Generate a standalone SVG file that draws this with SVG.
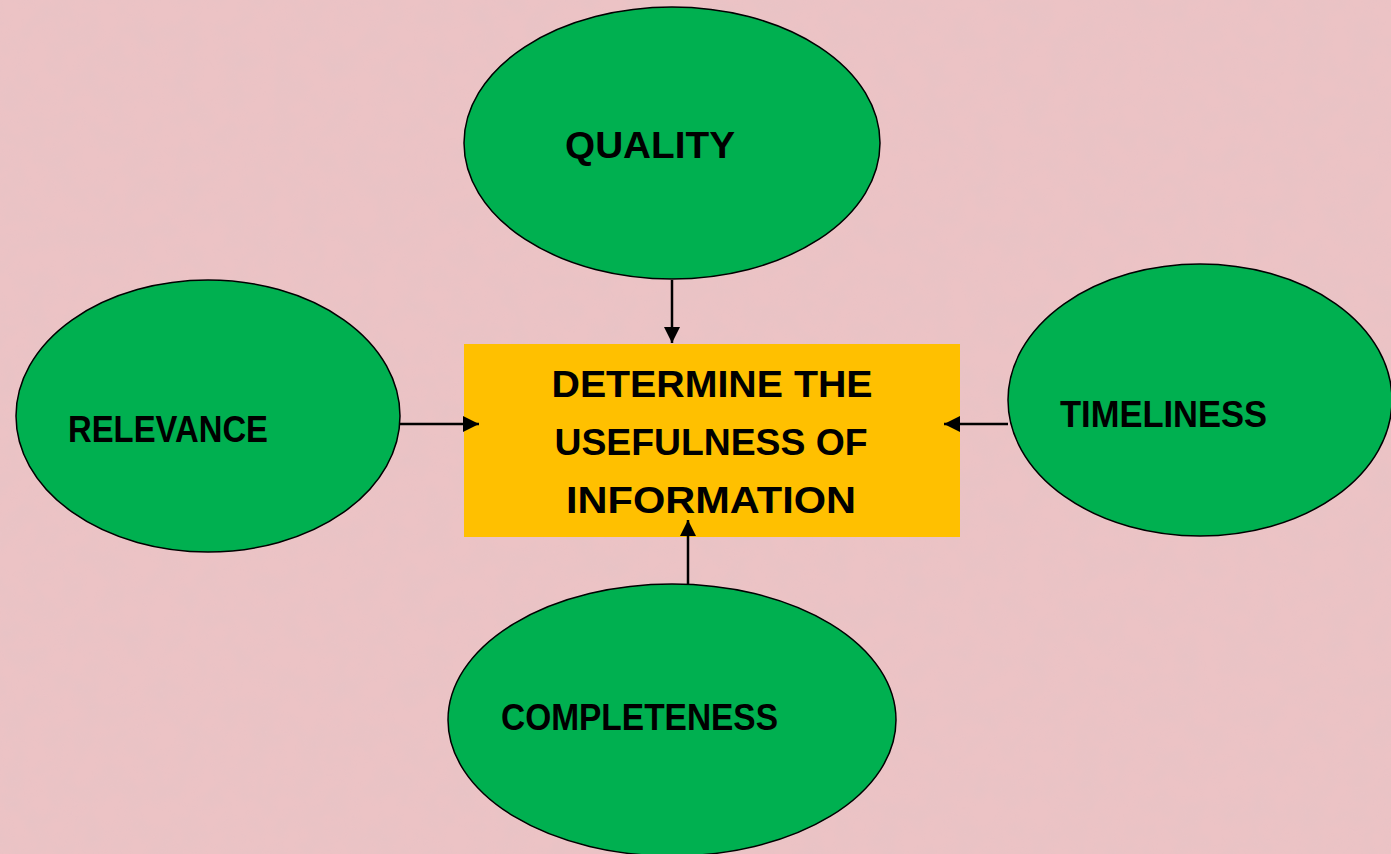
<svg xmlns="http://www.w3.org/2000/svg" width="1391" height="854" viewBox="0 0 1391 854">
  <defs>
    <style>
      .oval { fill: #00b050; stroke: #000; stroke-width: 1.5; }
      .box { fill: #ffc000; }
      .lbl { font-family: "Liberation Sans", Arial, sans-serif; font-weight: bold; font-size: 37px; fill: #000; }
      .conn { stroke: #000; stroke-width: 2.5; fill: none; marker-end: url(#arrow); }
    </style>
    <marker id="arrow" viewBox="0 0 10 10" refX="10" refY="5" markerWidth="6.5" markerHeight="6.5" markerUnits="strokeWidth" orient="auto">
      <path d="M0,0 L10,5 L0,10 Z" fill="#000"/>
    </marker>
    <filter id="tex" x="0" y="0" width="100%" height="100%">
      <feTurbulence type="fractalNoise" baseFrequency="0.04" numOctaves="3" seed="4" result="n"/>
      <feColorMatrix in="n" type="matrix" values="0 0 0 0 0.75  0 0 0 0 0.55  0 0 0 0 0.57  0 0 0 1.4 -0.45"/>
    </filter>
  </defs>
  <rect x="0" y="0" width="1391" height="854" fill="#ecc3c5"/>
  <rect x="0" y="0" width="1391" height="854" filter="url(#tex)" opacity="0.45"/>

  <g id="center">
    <rect class="box" x="464" y="344" width="496" height="193"/>
    <text class="lbl" x="712" y="397" text-anchor="middle" textLength="321" lengthAdjust="spacingAndGlyphs">DETERMINE THE</text>
    <text class="lbl" x="711" y="455" text-anchor="middle" textLength="313" lengthAdjust="spacingAndGlyphs">USEFULNESS OF</text>
    <text class="lbl" x="711" y="513" text-anchor="middle" textLength="290" lengthAdjust="spacingAndGlyphs">INFORMATION</text>
  </g>

  <g id="quality">
    <ellipse class="oval" cx="672" cy="143" rx="208" ry="136"/>
    <text class="lbl" x="565" y="158" textLength="170" lengthAdjust="spacingAndGlyphs">QUALITY</text>
  </g>

  <g id="relevance">
    <ellipse class="oval" cx="208" cy="416" rx="192" ry="136"/>
    <text class="lbl" x="68" y="442" textLength="200" lengthAdjust="spacingAndGlyphs">RELEVANCE</text>
  </g>

  <g id="timeliness">
    <ellipse class="oval" cx="1200" cy="400" rx="192" ry="136"/>
    <text class="lbl" x="1060" y="427" textLength="207" lengthAdjust="spacingAndGlyphs">TIMELINESS</text>
  </g>

  <g id="completeness">
    <ellipse class="oval" cx="672" cy="720" rx="224" ry="136"/>
    <text class="lbl" x="501" y="730" textLength="277" lengthAdjust="spacingAndGlyphs">COMPLETENESS</text>
  </g>

  <g id="connectors">
    <line class="conn" x1="672" y1="280" x2="672" y2="343"/>
    <line class="conn" x1="400" y1="424" x2="479" y2="424"/>
    <line class="conn" x1="1008" y1="424" x2="944" y2="424"/>
    <line class="conn" x1="688" y1="584" x2="688" y2="520"/>
  </g>
</svg>
